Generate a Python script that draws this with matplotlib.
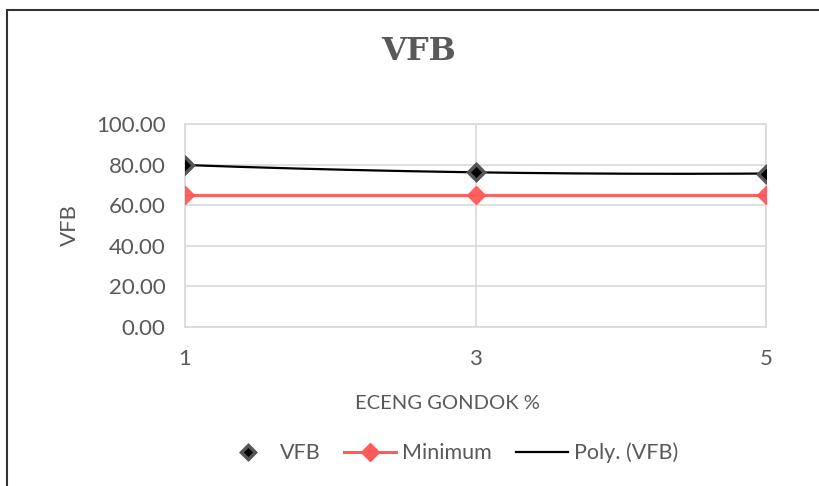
import numpy as np
import matplotlib.pyplot as plt
from matplotlib.patches import Rectangle
from matplotlib.lines import Line2D

# Data
categories = ["1", "3", "5"]
vfb = [79.8, 76.2, 75.6]
minimum = [65.0, 65.0, 65.0]
y_ticks = [0, 20, 40, 60, 80, 100]

text_color = "#595959"
grid_color = "#d9d9d9"
sans = ["Lato", "DejaVu Sans"]

fig = plt.figure(figsize=(8.19, 4.86), dpi=100)
fig.patch.set_facecolor("white")

# Chart frame
fig.add_artist(Rectangle((7 / 819, -0.05), 1.2, 1.05 - 10 / 486,
                         transform=fig.transFigure, fill=False,
                         edgecolor="#333333", linewidth=1.5))

ax = fig.add_axes([185 / 819, 1 - 327 / 486, (766 - 185) / 819, (327 - 124) / 486])
x = np.arange(len(categories))

# Polynomial (order 2) trendline over category index
coef = np.polyfit(x + 1, vfb, 2)
xs = np.linspace(0, len(categories) - 1, 200)
ax.plot(xs, np.polyval(coef, xs + 1), color="black", lw=1.6, zorder=3)

ax.plot(x, minimum, color="#ff5a5a", lw=2.2, marker="D", ms=9,
        markerfacecolor="#ff5a5a", markeredgecolor="#ff5a5a", alpha=0.95, zorder=4)
ax.plot(x, vfb, linestyle="none", marker="D", ms=8, markerfacecolor="black",
        markeredgecolor="#555555", markeredgewidth=2.5, zorder=5)

ax.set_xlim(0, len(categories) - 1)
ax.set_ylim(0, 100)
ax.set_yticks(y_ticks)
ax.set_yticklabels([f"{v:.2f}" for v in y_ticks])
ax.set_xticks(x)
ax.set_xticklabels(categories)
ax.grid(True, color=grid_color, lw=1.2)
ax.set_axisbelow(True)
for s in ax.spines.values():
    s.set_color(grid_color)
    s.set_linewidth(1.2)
ax.tick_params(length=0, labelsize=16, colors=text_color)
ax.tick_params(axis="y", pad=14)
ax.tick_params(axis="x", pad=16)
for lab in ax.get_xticklabels() + ax.get_yticklabels():
    lab.set_family(sans)

ax.set_xlabel("ECENG GONDOK %", fontsize=14.5, color=text_color, family=sans)
ax.set_ylabel("VFB", fontsize=16, color=text_color, family=sans)
ax.xaxis.set_label_coords((447 - 185) / 581, (327 - 403) / 203)
ax.xaxis.label.set_va("center")
ax.yaxis.set_label_coords((70 - 185) / 581, 0.5)
ax.yaxis.label.set_va("center")

fig.text(419 / 819, 1 - 52 / 486, "VFB", ha="center", va="center", fontsize=23,
         fontweight="bold", family=["DejaVu Serif"], color=text_color)

handles = [
    Line2D([], [], linestyle="none", marker="D", ms=7, markerfacecolor="black",
           markeredgecolor="#555555", markeredgewidth=2.5),
    Line2D([], [], color="#ff5a5a", lw=2.2, marker="D", ms=9,
           markerfacecolor="#ff5a5a", markeredgecolor="#ff5a5a"),
    Line2D([], [], color="black", lw=1.6),
]
fig.legend(handles, ["VFB", "Minimum", "Poly. (VFB)"], loc="center",
           bbox_to_anchor=(450 / 819, 1 - 453 / 486), ncol=3, frameon=False,
           prop={"family": sans, "size": 15.5}, labelcolor=text_color,
           handlelength=2.4, columnspacing=1.1, handletextpad=0.3)

fig.savefig("out.png", dpi=100)
